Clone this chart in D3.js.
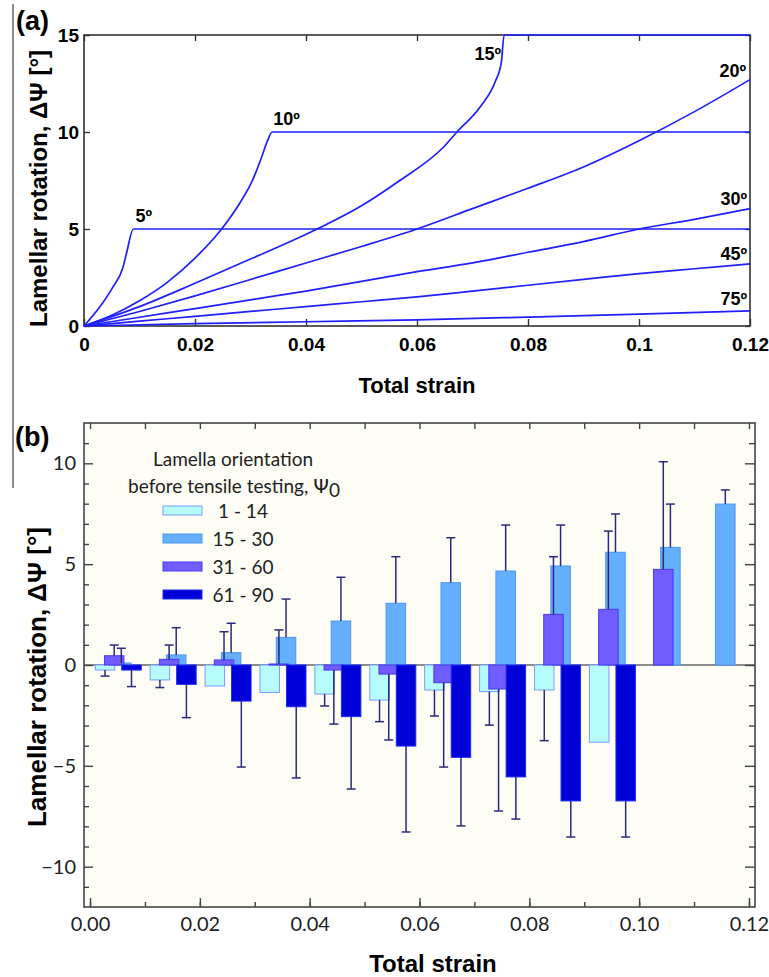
<!DOCTYPE html>
<html><head><meta charset="utf-8">
<script src="https://cdn.jsdelivr.net/npm/d3@7"></script>
<style>body{margin:0;background:#fff;} svg{display:block;}</style>
</head><body>
<svg id="c" width="769" height="977"></svg>
<script>
// ---------------- Panel (a) data ----------------
const aTicksX = [0, 0.02, 0.04, 0.06, 0.08, 0.1, 0.12];
const aTickLabelsX = ["0", "0.02", "0.04", "0.06", "0.08", "0.1", "0.12"];
const aTicksY = [0, 5, 10, 15];
const curve05 = [[0,0],[0.0029,1.0],[0.0052,2.0],[0.0070,3.0],[0.0077,3.8],[0.0089,5],[0.12,5]];
const curve10 = [[0,0],[0.005,0.55],[0.010,1.3],[0.015,2.25],[0.020,3.5],[0.0248,5.0],[0.028,6.3],[0.0305,7.6],[0.032,8.7],[0.033,9.5],[0.0339,10],[0.12,10]];
const curve15 = [[0,0],[0.01,1.0],[0.02,2.2],[0.03,3.45],[0.042,5.0],[0.05,6.2],[0.0569,7.5],[0.0647,9.2],[0.0672,10],[0.0714,11.3],[0.0741,12.6],[0.0752,13.6],[0.0757,15],[0.12,15]];
const curve20 = [[0,0],[0.01,0.75],[0.02,1.55],[0.03,2.4],[0.04,3.25],[0.05,4.1],[0.06,5.0],[0.07,6.05],[0.08,7.1],[0.09,8.2],[0.10,9.55],[0.11,11.05],[0.12,12.7]];
const curve30 = [[0,0],[0.01,0.45],[0.02,0.9],[0.03,1.35],[0.04,1.8],[0.05,2.3],[0.06,2.8],[0.07,3.25],[0.08,3.8],[0.09,4.35],[0.10,5.0],[0.11,5.5],[0.12,6.05]];
const curve45 = [[0,0],[0.01,0.25],[0.02,0.5],[0.03,0.75],[0.04,1.0],[0.05,1.25],[0.06,1.5],[0.07,1.8],[0.08,2.1],[0.09,2.4],[0.10,2.7],[0.11,2.95],[0.12,3.2]];
const curve75 = [[0,0],[0.02,0.12],[0.04,0.22],[0.06,0.32],[0.08,0.46],[0.10,0.61],[0.12,0.78]];
const curveLabels = ["5º", "10º", "15º", "20º", "30º", "45º", "75º"];

// ---------------- Panel (b) data ----------------
const bTicksX = [0, 0.02, 0.04, 0.06, 0.08, 0.10, 0.12];
const bTickLabelsX = ["0.00", "0.02", "0.04", "0.06", "0.08", "0.10", "0.12"];
const bTicksY = [-10, -5, 0, 5, 10];
const groupStrain = [0.005, 0.015, 0.025, 0.035, 0.045, 0.055, 0.065, 0.075, 0.085, 0.095, 0.105, 0.115];
const seriesNames = ["1 - 14", "15 - 30", "31 - 60", "61 - 90"];
const rot1_14  = [-0.25, -0.74, -1.04, -1.36, -1.44, -1.74, -1.24, -1.32, -1.24, -3.83, null, null];
const err1_14  = [0.30, 0.38, null, null, 0.59, 1.07, 1.29, 1.66, 2.51, null, null, null];
const rot15_30 = [0.10, 0.50, 0.61, 1.37, 2.18, 3.06, 4.08, 4.66, 4.91, 5.59, 5.83, 7.98];
const err15_30 = [0.73, 1.35, 1.46, 1.90, 2.17, 2.31, 2.23, 2.28, 2.03, 1.90, 2.15, 0.70];
const rot31_60 = [0.46, 0.28, 0.25, 0.05, -0.25, -0.45, -0.88, -1.19, 2.51, 2.76, 4.74, null];
const err31_60 = [0.53, 0.71, 1.40, 1.69, 2.68, 3.27, 4.18, 6.05, 2.86, 3.88, 5.34, null];
const rot61_90 = [-0.25, -0.96, -1.79, -2.07, -2.56, -4.02, -4.58, -5.55, -6.74, -6.74, null, null];
const err61_90 = [0.82, 1.65, 3.27, 3.53, 3.59, 4.26, 3.40, 2.09, 1.79, 1.79, null, null];

// ---------------- drawing ----------------
const svg = d3.select("#c");
const blue = "#1f1fff";
const boldFont = "'Liberation Sans', Arial, sans-serif";
const lightFont = "Lato, 'Open Sans', sans-serif";

// left gray rule
svg.append("line").attr("x1", 13).attr("x2", 13).attr("y1", 4).attr("y2", 488)
  .attr("stroke", "#8a8a8a").attr("stroke-width", 2);

// ===== Panel (a) =====
const xA = d3.scaleLinear().domain([0, 0.12]).range([84, 750]);
const yA = d3.scaleLinear().domain([0, 15]).range([326, 35]);
const gA = svg.append("g");

gA.append("text").attr("x", 16).attr("y", 30).attr("font-family", boldFont)
  .attr("font-weight", "bold").attr("font-size", 27).text("(a)");

function styleAxis(g, col) {
  g.select(".domain").remove();
  g.selectAll(".tick line").attr("stroke", col).attr("stroke-width", 1.4);
}
const axA_b = gA.append("g").attr("transform", `translate(0,${yA(0)})`)
  .call(d3.axisBottom(xA).tickValues(aTicksX).tickFormat((d, i) => aTickLabelsX[i]).tickSizeInner(-7).tickSizeOuter(0).tickPadding(12));
styleAxis(axA_b, "#333");
axA_b.selectAll("text").attr("font-family", boldFont).attr("font-weight", "bold").attr("font-size", 19).attr("fill", "#000");
const axA_t = gA.append("g").attr("transform", `translate(0,${yA(15)})`)
  .call(d3.axisTop(xA).tickValues(aTicksX).tickFormat("").tickSizeInner(-6).tickSizeOuter(0));
styleAxis(axA_t, "#333");
const axA_l = gA.append("g").attr("transform", `translate(${xA(0)},0)`)
  .call(d3.axisLeft(yA).tickValues(aTicksY).tickSizeInner(-6).tickSizeOuter(0).tickPadding(5));
styleAxis(axA_l, "#333");
axA_l.selectAll("text").attr("font-family", boldFont).attr("font-weight", "bold").attr("font-size", 19).attr("fill", "#000");
const axA_r = gA.append("g").attr("transform", `translate(${xA(0.12)},0)`)
  .call(d3.axisRight(yA).tickValues(aTicksY).tickFormat("").tickSizeInner(-5).tickSizeOuter(0));
styleAxis(axA_r, "#333");

gA.append("rect").attr("x", xA(0)).attr("y", yA(15)).attr("width", xA(0.12) - xA(0)).attr("height", yA(0) - yA(15))
  .attr("fill", "none").attr("stroke", "#333").attr("stroke-width", 1.6);

const lineA = d3.line().x(d => xA(d[0])).y(d => yA(d[1])).curve(d3.curveMonotoneX);
const curvesA = [curve05, curve10, curve15, curve20, curve30, curve45, curve75];
gA.selectAll("path.curve").data(curvesA).join("path").attr("class", "curve")
  .attr("d", lineA).attr("fill", "none").attr("stroke", blue).attr("stroke-width", 1.7);

function kneeOf(c) { return c[c.length - 2]; }
function endOf(c) { return c[c.length - 1]; }
const labelPlacement = [
  {pt: kneeOf(curve05), dx: 2, dy: -7, anchor: "start"},
  {pt: kneeOf(curve10), dx: 1, dy: -7, anchor: "start"},
  {pt: kneeOf(curve15), dx: -3, dy: 25, anchor: "end"},
  {pt: endOf(curve20), dx: -4, dy: -3, anchor: "end"},
  {pt: endOf(curve30), dx: -3, dy: -4, anchor: "end"},
  {pt: endOf(curve45), dx: -3, dy: -4, anchor: "end"},
  {pt: endOf(curve75), dx: -3, dy: -6, anchor: "end"}
];
gA.selectAll("text.clabel").data(curveLabels).join("text").attr("class", "clabel")
  .attr("x", (d, i) => xA(labelPlacement[i].pt[0]) + labelPlacement[i].dx)
  .attr("y", (d, i) => yA(labelPlacement[i].pt[1]) + labelPlacement[i].dy)
  .attr("text-anchor", (d, i) => labelPlacement[i].anchor)
  .attr("font-family", boldFont).attr("font-weight", "bold").attr("font-size", 18)
  .text(d => d);

gA.append("text").attr("transform", `translate(47,${(yA(0) + yA(15)) / 2 + 8}) rotate(-90)`)
  .attr("text-anchor", "middle").attr("font-family", boldFont).attr("font-weight", "bold")
  .attr("font-size", 24).text("Lamellar rotation, ΔΨ [°]");
gA.append("text").attr("x", (xA(0) + xA(0.12)) / 2).attr("y", 393).attr("text-anchor", "middle")
  .attr("font-family", boldFont).attr("font-weight", "bold").attr("font-size", 22).text("Total strain");

// ===== Panel (b) =====
const xB = d3.scaleLinear().domain([-0.0011, 0.1211]).range([84, 755]);
const yB = d3.scaleLinear().domain([-12, 12]).range([907, 423]);
const gB = svg.append("g");

gB.append("text").attr("x", 15).attr("y", 446).attr("font-family", boldFont)
  .attr("font-weight", "bold").attr("font-size", 27).text("(b)");

gB.append("rect").attr("x", xB.range()[0]).attr("y", yB(12)).attr("width", xB.range()[1] - xB.range()[0])
  .attr("height", yB(-12) - yB(12)).attr("fill", "#fdfdf6");

gB.append("line").attr("x1", xB.range()[0]).attr("x2", xB.range()[1]).attr("y1", yB(0)).attr("y2", yB(0))
  .attr("stroke", "#666").attr("stroke-width", 1.3);

const barW = 19.5;
const barOffsets = [-12.5, 3.8, -3.3, 14];
const fills = ["#b6fcfc", "#64b0ff", "#715dff", "#0000d8"];
const strokes = ["#7a9cff", "#4b95f5", "#4a38f0", "#1d2cf2"];
const rotSeries = [rot1_14, rot15_30, rot31_60, rot61_90];
const errSeries = [err1_14, err15_30, err31_60, err61_90];
rotSeries.forEach((vals, s) => {
  const data = groupStrain.map((g, i) => ({g, v: vals[i]})).filter(d => d.v !== null);
  gB.append("g").selectAll("rect").data(data).join("rect")
    .attr("x", d => xB(d.g) + barOffsets[s] - barW / 2)
    .attr("y", d => yB(Math.max(0, d.v)))
    .attr("width", barW)
    .attr("height", d => Math.abs(yB(d.v) - yB(0)))
    .attr("fill", fills[s]).attr("stroke", strokes[s]).attr("stroke-width", 1);
});
const errCol = "#2a2a7c";
rotSeries.forEach((vals, s) => {
  const data = groupStrain.map((g, i) => ({g, v: vals[i], e: errSeries[s][i]})).filter(d => d.v !== null && d.e !== null);
  const eg = gB.append("g");
  data.forEach(d => {
    const cx = xB(d.g) + barOffsets[s];
    const end = d.v >= 0 ? d.v + d.e : d.v - d.e;
    eg.append("line").attr("x1", cx).attr("x2", cx).attr("y1", yB(d.v)).attr("y2", yB(end))
      .attr("stroke", errCol).attr("stroke-width", 1.5);
    eg.append("line").attr("x1", cx - 4.5).attr("x2", cx + 4.5).attr("y1", yB(end)).attr("y2", yB(end))
      .attr("stroke", errCol).attr("stroke-width", 1.5);
  });
});

const minorY = d3.range(-11, 12).filter(v => v % 5 !== 0);
const minorX = d3.range(0, 13).map(i => i / 100);
const axB_lm = gB.append("g").attr("transform", `translate(${xB.range()[0]},0)`)
  .call(d3.axisLeft(yB).tickValues(minorY).tickFormat("").tickSizeInner(-5).tickSizeOuter(0));
styleAxis(axB_lm, "#444");
const axB_l = gB.append("g").attr("transform", `translate(${xB.range()[0]},0)`)
  .call(d3.axisLeft(yB).tickValues(bTicksY).tickSizeInner(-9).tickSizeOuter(0).tickPadding(8));
styleAxis(axB_l, "#444");
axB_l.selectAll("text").attr("font-family", lightFont).attr("font-size", 20).attr("fill", "#222");
const axB_rm = gB.append("g").attr("transform", `translate(${xB.range()[1]},0)`)
  .call(d3.axisRight(yB).tickValues(minorY).tickFormat("").tickSizeInner(-6).tickSizeOuter(0));
styleAxis(axB_rm, "#444");
const axB_r = gB.append("g").attr("transform", `translate(${xB.range()[1]},0)`)
  .call(d3.axisRight(yB).tickValues(bTicksY).tickFormat("").tickSizeInner(-10).tickSizeOuter(0));
styleAxis(axB_r, "#444");
const axB_bm = gB.append("g").attr("transform", `translate(0,${yB(-12)})`)
  .call(d3.axisBottom(xB).tickValues(minorX).tickFormat("").tickSizeInner(-5).tickSizeOuter(0));
styleAxis(axB_bm, "#444");
const axB_b = gB.append("g").attr("transform", `translate(0,${yB(-12)})`)
  .call(d3.axisBottom(xB).tickValues(bTicksX).tickFormat((d, i) => bTickLabelsX[i]).tickSizeInner(-9).tickSizeOuter(0).tickPadding(10));
styleAxis(axB_b, "#444");
axB_b.selectAll("text").attr("font-family", lightFont).attr("font-size", 20).attr("fill", "#222");
const axB_t = gB.append("g").attr("transform", `translate(0,${yB(12)})`)
  .call(d3.axisTop(xB).tickValues(minorX).tickFormat("").tickSizeInner(-6).tickSizeOuter(0));
styleAxis(axB_t, "#444");

gB.append("rect").attr("x", xB.range()[0]).attr("y", yB(12)).attr("width", xB.range()[1] - xB.range()[0])
  .attr("height", yB(-12) - yB(12)).attr("fill", "none").attr("stroke", "#444").attr("stroke-width", 1.6);

const lg = gB.append("g").attr("font-family", lightFont).attr("fill", "#222");
lg.append("text").attr("x", 233).attr("y", 466).attr("text-anchor", "middle").attr("font-size", 19).text("Lamella orientation");
const t2 = lg.append("text").attr("x", 234).attr("y", 493).attr("text-anchor", "middle").attr("font-size", 19);
t2.append("tspan").text("before tensile testing, ");
t2.append("tspan").attr("font-family", "'DejaVu Sans', sans-serif").attr("font-size", 20).text("Ψ");
t2.append("tspan").attr("dy", 4).attr("font-size", 19).text("0");
seriesNames.forEach((n, s) => {
  const cy = 510.5 + s * 28;
  lg.append("rect").attr("x", 163).attr("y", cy - 4.5).attr("width", 39).attr("height", 9)
    .attr("fill", fills[s]).attr("stroke", strokes[s]).attr("stroke-width", 1);
  lg.append("text").attr("x", 243).attr("y", cy + 7).attr("text-anchor", "middle").attr("font-size", 19).text(n);
});

gB.append("text").attr("transform", `translate(46,${(yB(-12) + yB(12)) / 2 + 12}) rotate(-90)`)
  .attr("text-anchor", "middle").attr("font-family", boldFont).attr("font-weight", "bold")
  .attr("font-size", 26).text("Lamellar rotation, ΔΨ [°]");
gB.append("text").attr("x", 433).attr("y", 972).attr("text-anchor", "middle")
  .attr("font-family", boldFont).attr("font-weight", "bold").attr("font-size", 24).text("Total strain");
</script>
</body></html>
